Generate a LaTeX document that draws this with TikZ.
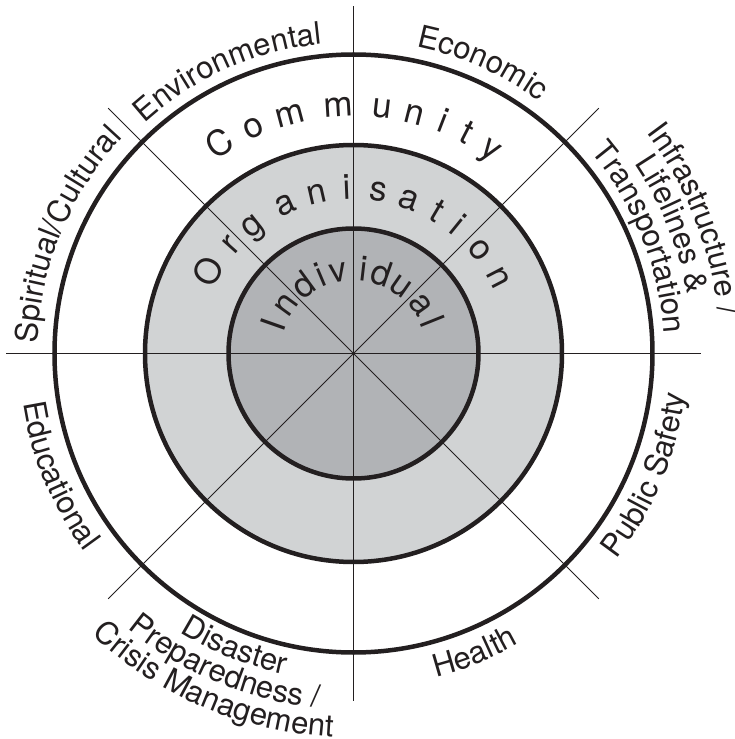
\documentclass[tikz,border=0pt]{standalone}
\usepackage{fontspec}
\setmainfont{TeX Gyre Heros}
\usetikzlibrary{decorations.text}
\definecolor{ink}{HTML}{231F20}
\definecolor{ringgray}{HTML}{D1D3D4}
\definecolor{coregray}{HTML}{B1B3B6}
\newcommand\ringfont{\fontsize{35}{35}\selectfont}
\newcommand\labfont{\fontsize{31}{31}\selectfont}
\tikzset{
  ray/.style={draw=ink, line width=0.9pt},
  ringline/.style={draw=ink, line width=4.5pt},
  ringletter/.style={anchor=base, inner sep=0pt, outer sep=0pt, text=ink, font=\ringfont},
  outlab/.style={decorate, decoration={text along path, text align=center, text color=ink}},
}
\begin{document}
\begin{tikzpicture}
\useasboundingbox (-353.5pt,-385.5pt) rectangle (380.5pt,353.5pt);
\fill[white] (-353.5pt,-385.5pt) rectangle (380.5pt,353.5pt);
% fills
\fill[ringgray] (0,0) circle[radius=208.5pt];
\fill[coregray] (0,0) circle[radius=125pt];
% rays
\coordinate (c) at (0,0);
\foreach \a in {0,45,...,315} {
  \coordinate (e\a) at (\a:347pt);
  \draw[ray] (c) -- (e\a);
}
% circles
\draw[ringline] (c) circle[radius=299pt];
\draw[ringline] (c) circle[radius=208.5pt];
\draw[ringline] (c) circle[radius=125pt];
% ring words
\foreach \ch/\ang [count=\i] in {C/122.6,o/114.0,m/104.9,m/93.5,u/83.4,n/75.8,i/68.9,t/62.8,y/56.0}
  \node[ringletter, rotate=\ang-90] (com\i) at (\ang:237pt) {\ch};
\foreach \ch/\ang [count=\i] in {O/150.6,r/138.3,g/128.5,a/114.6,n/102.9,i/92.4,s/81.3,a/70.15,t/59.5,i/51.0,o/39.4,n/27.4}
  \node[ringletter, rotate=\ang-90] (org\i) at (\ang:154pt) {\ch};
\foreach \ch/\ang [count=\i] in {I/160.6,n/144.0,d/126.2,i/112.9,v/100.3,i/83.4,d/70.6,u/55.2,a/35.8,l/21.9}
  \node[ringletter, rotate=\ang-90] (ind\i) at (\ang:73pt) {\ch};
% outer labels, top half (clockwise, tops outward)
\path[outlab, decoration={text={|\labfont|Spiritual/Cultural}}]
  (217.5:316pt) arc[start angle=217.5, end angle=97.5, radius=316pt];
\path[outlab, decoration={text={|\labfont|Environmental}}]
  (174:311pt) arc[start angle=174, end angle=54, radius=311pt];
\path[outlab, decoration={text={|\labfont|Economic}}]
  (126:313pt) arc[start angle=126, end angle=6, radius=313pt];
\path[outlab, decoration={text={|\labfont|Infrastructure /}}]
  (81.5:367pt) arc[start angle=81.5, end angle=-38.5, radius=367pt];
\path[outlab, decoration={text={|\labfont|Lifelines {\&}}}]
  (82:339pt) arc[start angle=82, end angle=-38, radius=339pt];
\path[outlab, decoration={text={|\labfont|Transportation}}]
  (82:311pt) arc[start angle=82, end angle=-38, radius=311pt];
% outer labels, bottom half (counterclockwise, tops inward)
\path[outlab, decoration={text={|\labfont|Public Safety}}]
  (277.5:334pt) arc[start angle=277.5, end angle=397.5, radius=334pt];
\path[outlab, decoration={text={|\labfont|Health}}]
  (232:334pt) arc[start angle=232, end angle=352, radius=334pt];
\path[outlab, decoration={text={|\labfont|Disaster}}]
  (188:328pt) arc[start angle=188, end angle=308, radius=328pt];
\path[outlab, decoration={text={|\labfont|Preparedness /}}]
  (187.5:356pt) arc[start angle=187.5, end angle=307.5, radius=356pt];
\path[outlab, decoration={text={|\labfont|Crisis Management}}]
  (187:384pt) arc[start angle=187, end angle=307, radius=384pt];
\path[outlab, decoration={text={|\labfont|Educational}}]
  (142.5:334pt) arc[start angle=142.5, end angle=262.5, radius=334pt];
\end{tikzpicture}
\end{document}
